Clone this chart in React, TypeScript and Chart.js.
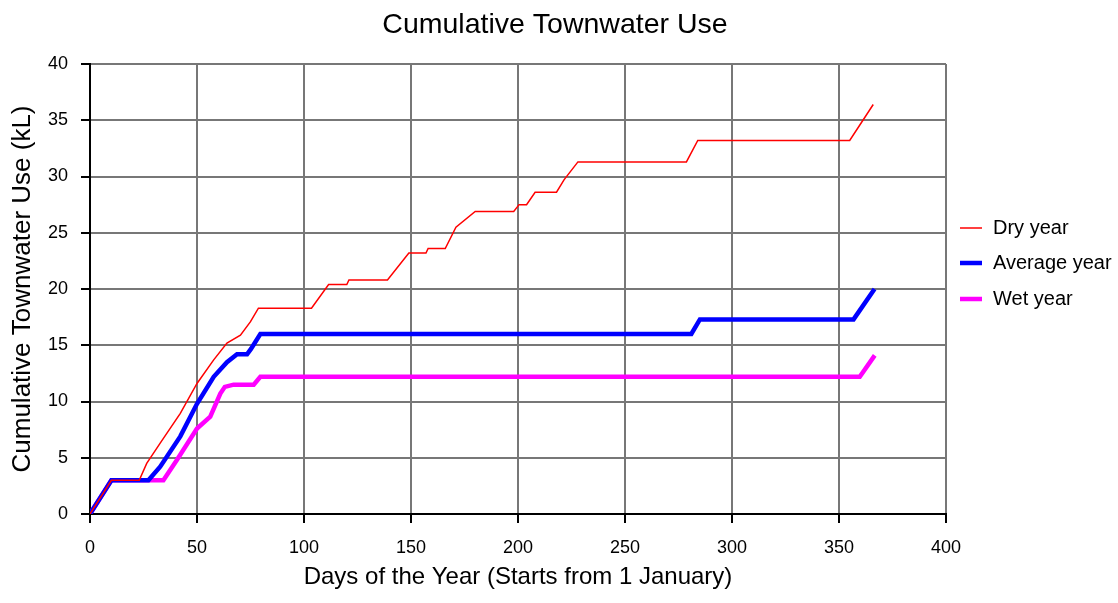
import React, { useEffect, useRef } from "react";
import { Chart, registerables } from "chart.js";

Chart.register(...registerables);

const TITLE = "Cumulative Townwater Use";
const X_TITLE = "Days of the Year (Starts from 1 January)";
const Y_TITLE = "Cumulative Townwater Use (kL)";

const seriesNames = ["Dry year", "Average year", "Wet year"];

const dryDays = [0, 10, 23, 26.5, 32.8, 42.2, 50, 57.8, 64, 70.3, 75, 78.7, 103.5, 111.5, 120, 121, 139, 149, 157, 158, 166, 171, 180, 198, 200.5, 204, 208, 218, 221.5, 228, 278.7, 284, 355, 366];
const dryUse = [0, 3.0, 3.0, 4.5, 6.3, 8.95, 11.6, 13.7, 15.2, 15.9, 17.1, 18.3, 18.3, 20.4, 20.4, 20.8, 20.8, 23.2, 23.2, 23.6, 23.6, 25.5, 26.9, 26.9, 27.5, 27.5, 28.6, 28.6, 29.7, 31.3, 31.3, 33.2, 33.2, 36.4];

const avgDays = [0, 10, 27.3, 32.8, 42.2, 50, 57.8, 64, 68.7, 73.4, 75.3, 79.6, 281, 285, 356.8, 366.6];
const avgUse = [0, 3.0, 3.0, 4.2, 6.9, 9.8, 12.2, 13.5, 14.2, 14.2, 14.7, 16.0, 16.0, 17.3, 17.3, 20.0];

const wetDays = [0, 10, 34.3, 40.6, 50, 56.2, 60.9, 63, 67.1, 76.5, 79.6, 359.7, 366.7];
const wetUse = [0, 3.0, 3.0, 4.8, 7.6, 8.65, 10.7, 11.3, 11.5, 11.5, 12.2, 12.2, 14.1];

const xTicks = [0, 50, 100, 150, 200, 250, 300, 350, 400];
const yTicks = [0, 5, 10, 15, 20, 25, 30, 35, 40];

const FONT = "'Liberation Sans', Arial, sans-serif";

const toPoints = (xs: number[], ys: number[]) => xs.map((x, i) => ({ x, y: ys[i] }));

const titleLegendPlugin = {
  id: "titleAndLegend",
  afterDraw(chart: any) {
    const ctx = chart.ctx;
    ctx.save();
    ctx.fillStyle = "#000";
    ctx.font = `28.5px ${FONT}`;
    ctx.textBaseline = "middle";
    ctx.textAlign = "center";
    ctx.fillText(TITLE, 555, 25);

    const rows = [228, 263, 299];
    chart.data.datasets.forEach((ds: any, i: number) => {
      const y = rows[i];
      ctx.strokeStyle = ds.borderColor;
      ctx.lineWidth = ds.borderWidth;
      ctx.lineCap = "butt";
      ctx.beginPath();
      ctx.moveTo(960, y);
      ctx.lineTo(982, y);
      ctx.stroke();
      ctx.fillStyle = "#000";
      ctx.font = `20px ${FONT}`;
      ctx.textBaseline = "middle";
      ctx.textAlign = "left";
      ctx.fillText(ds.label, 993, y);
    });
    ctx.restore();
  },
};

export default function App() {
  const ref = useRef<HTMLCanvasElement | null>(null);
  useEffect(() => {
    if (!ref.current) return;
    const chart = new Chart(ref.current, {
      type: "line",
      data: {
        datasets: [
          { label: seriesNames[0], data: toPoints(dryDays, dryUse), borderColor: "#ff0000", borderWidth: 1.5, pointRadius: 0, tension: 0, fill: false },
          { label: seriesNames[1], data: toPoints(avgDays, avgUse), borderColor: "#0000ff", borderWidth: 4.5, pointRadius: 0, tension: 0, fill: false },
          { label: seriesNames[2], data: toPoints(wetDays, wetUse), borderColor: "#ff00ff", borderWidth: 4.5, pointRadius: 0, tension: 0, fill: false },
        ],
      },
      options: {
        animation: false,
        responsive: false,
        layout: { padding: { left: 0, right: 172, top: 64, bottom: 0 } },
        plugins: {
          legend: { display: false },
          tooltip: { enabled: false },
          title: { display: false },
        },
        scales: {
          x: {
            type: "linear",
            min: 0,
            max: 400,
            afterBuildTicks: (s: any) => { s.ticks = xTicks.map((v) => ({ value: v })); },
            afterFit: (s: any) => { s.height = 89; },
            grid: { color: "#777", lineWidth: 2, tickLength: 9, tickColor: "#000", tickWidth: 2 },
            border: { color: "#000", width: 2 },
            ticks: { color: "#000", font: { family: FONT, size: 18 }, padding: 14, maxRotation: 0, autoSkip: false },
            title: { display: true, text: X_TITLE, color: "#000", font: { family: FONT, size: 24 }, padding: { top: 0, bottom: 11.6 } },
          },
          y: {
            type: "linear",
            min: 0,
            max: 40,
            afterBuildTicks: (s: any) => { s.ticks = yTicks.map((v) => ({ value: v })); },
            afterFit: (s: any) => { s.width = 90; },
            grid: { color: "#777", lineWidth: 2, tickLength: 9, tickColor: "#000", tickWidth: 2 },
            border: { color: "#000", width: 2 },
            ticks: { color: "#000", font: { family: FONT, size: 18 }, padding: 13, autoSkip: false },
            title: { display: true, text: Y_TITLE, color: "#000", font: { family: FONT, size: 26 }, padding: { top: 7, bottom: 0 } },
          },
        },
      } as any,
      plugins: [titleLegendPlugin],
    });
    return () => chart.destroy();
  }, []);
  return (
    <div style={{ position: "fixed", left: 0, top: 0, width: 1118, height: 603, background: "#fff" }}>
      <canvas ref={ref} width={1118} height={603} style={{ display: "block" }} />
    </div>
  );
}
